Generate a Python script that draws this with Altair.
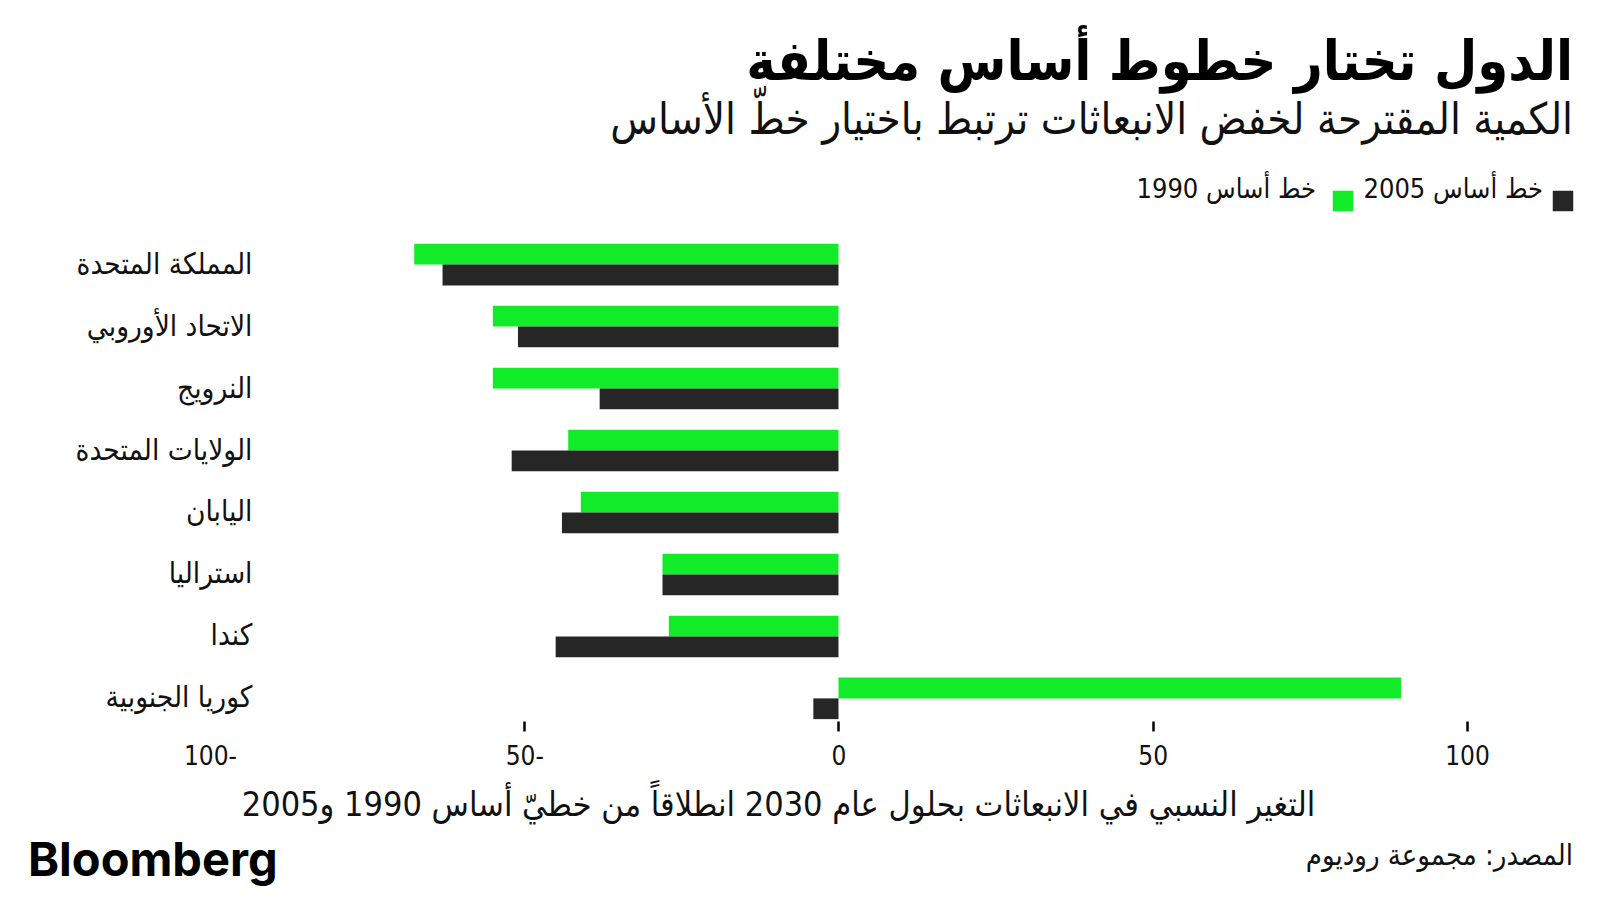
import altair as alt
import pandas as pd

# ---- data ----
countries = ["المملكة المتحدة", "الاتحاد الأوروبي", "النرويج", "الولايات المتحدة",
             "اليابان", "استراليا", "كندا", "كوريا الجنوبية"]
series_names = ["خط أساس 1990", "خط أساس 2005"]
base_1990 = [-67.5, -55, -55, -43, -41, -28, -27, 89.5]
base_2005 = [-63, -51, -38, -52, -44, -28, -45, -4]
x_ticks = [-100, -50, 0, 50, 100]

title_text = "الدول تختار خطوط أساس مختلفة"
subtitle_text = "الكمية المقترحة لخفض الانبعاثات ترتبط باختيار خطّ الأساس"
x_title = "التغير النسبي في الانبعاثات بحلول عام 2030 انطلاقاً من خطيّ أساس 1990 و2005"
source_text = "المصدر: مجموعة روديوم"
brand_text = "Bloomberg"

GREEN = "#12EB28"
DARK = "#262626"
AR_FONT = "DejaVu Sans Condensed"

rows = []
for c, a, b in zip(countries, base_1990, base_2005):
    rows.append({"country": c, "series": series_names[0], "value": a})
    rows.append({"country": c, "series": series_names[1], "value": b})
df = pd.DataFrame(rows)

W, H = 1543, 479

bars = alt.Chart(df).mark_bar().encode(
    x=alt.X("value:Q",
            scale=alt.Scale(domain=[-128.64, 116.87], nice=False, zero=False),
            axis=alt.Axis(values=x_ticks, title=x_title, grid=False, domain=False,
                          ticks=True, tickSize=10, tickWidth=2.5, tickColor="#000000",
                          tickOpacity={"condition": {"test": "datum.value == -100", "value": 0}, "value": 1},
                          labelFont=AR_FONT, labelFontSize=26, labelColor="#111111",
                          labelPadding=12,
                          labelExpr="datum.value < 0 ? abs(datum.value) + '-' : datum.label",
                          titleFont=AR_FONT, titleFontSize=34, titleFontWeight="normal",
                          titleColor="#111111", titleX=748, titleY=84,
                          titleAlign="center", titleBaseline="middle")),
    y=alt.Y("country:N", sort=countries,
            scale=alt.Scale(paddingInner=0.33, paddingOuter=0.03),
            axis=alt.Axis(title=None, ticks=False, domain=False, labelAlign="right",
                          labelPadding=-222, labelFont=AR_FONT, labelFontSize=29.5,
                          labelColor="#111111", labelBaseline="middle", labelLimit=400)),
    yOffset=alt.YOffset("series:N", sort=series_names,
                        scale=alt.Scale(domain=series_names, paddingInner=0, paddingOuter=0)),
    color=alt.Color("series:N", scale=alt.Scale(domain=series_names, range=[GREEN, DARK]),
                    legend=None),
)

# manual right-to-left legend (marker to the right of its label)
leg_dark_sq = alt.Chart(pd.DataFrame({"label": [series_names[1]]})).mark_square(
    size=420, color=DARK, opacity=1).encode(x=alt.value(1533), y=alt.value(-41))
leg_dark_tx = alt.Chart(pd.DataFrame({"label": [series_names[1]]})).mark_text(
    align="right", baseline="middle", font=AR_FONT, fontSize=27, color="#111111").encode(
    text="label:N", x=alt.value(1513), y=alt.value(-52))
leg_green_sq = alt.Chart(pd.DataFrame({"label": [series_names[0]]})).mark_square(
    size=420, color=GREEN, opacity=1).encode(x=alt.value(1313), y=alt.value(-41))
leg_green_tx = alt.Chart(pd.DataFrame({"label": [series_names[0]]})).mark_text(
    align="right", baseline="middle", font=AR_FONT, fontSize=27, color="#111111").encode(
    text="label:N", x=alt.value(1286), y=alt.value(-52))

brand = alt.Chart(pd.DataFrame({"t": [brand_text]})).mark_text(
    align="left", baseline="middle", font="Inter", fontWeight="bold", fontSize=47,
    color="#000000").encode(text="t:N", x=alt.value(-2), y=alt.value(620))
source = alt.Chart(pd.DataFrame({"t": [source_text]})).mark_text(
    align="right", baseline="middle", font=AR_FONT, fontSize=29,
    color="#111111").encode(text="t:N", x=alt.value(W), y=alt.value(614))

chart = alt.layer(bars, leg_dark_sq, leg_dark_tx, leg_green_sq, leg_green_tx, brand, source).properties(
    width=W, height=H,
    background="#ffffff",
    autosize=alt.AutoSizeParams(type="none"),
    padding={"left": 30, "top": 242, "right": 27, "bottom": 179},
    title=alt.TitleParams(
        text=title_text, subtitle=subtitle_text, anchor="end", orient="top", frame="group",
        font=AR_FONT, fontSize=55.5, fontWeight="bold", color="#000000",
        subtitleFont=AR_FONT, subtitleFontSize=43.5, subtitleColor="#111111",
        subtitlePadding=8, offset=34),
).configure_view(strokeWidth=0, stroke="transparent")

chart.save("out.html", embed_options={"renderer": "svg", "actions": False})
